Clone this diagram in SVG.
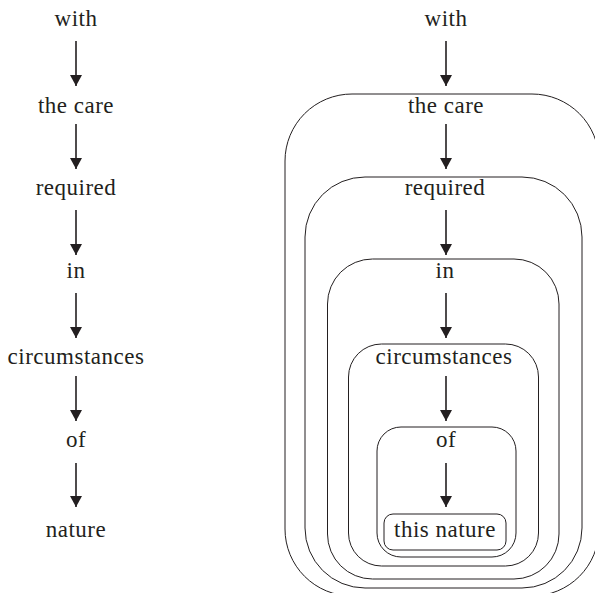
<svg xmlns="http://www.w3.org/2000/svg" width="595" height="593" viewBox="0 0 595 593">
<style>
text{font-family:"Liberation Serif","Times New Roman",serif;font-size:23px;fill:#231f20;text-anchor:middle;letter-spacing:0.5px}
.box{fill:none;stroke:#231f20;stroke-width:1}
.arr{stroke:#231f20;stroke-width:1.6;fill:none;marker-end:url(#ah)}
</style>
<defs>
<marker id="ah" markerUnits="userSpaceOnUse" markerWidth="11" markerHeight="12" viewBox="0 0 11 12" refX="11" refY="6" orient="auto">
<path d="M0,0 L11,6 L0,12 z" fill="#231f20"/>
</marker>
</defs>
<rect width="595" height="593" fill="#fff"/>
<g id="left-chain">
<g id="l-with"><text x="76" y="26">with</text></g>
<g id="l-thecare"><text x="76" y="113">the care</text></g>
<g id="l-required"><text x="76" y="195">required</text></g>
<g id="l-in"><text x="76" y="278">in</text></g>
<g id="l-circumstances"><text x="76" y="364">circumstances</text></g>
<g id="l-of"><text x="76" y="447">of</text></g>
<g id="l-nature"><text x="76" y="537">nature</text></g>
</g>
<g id="right-nest">
<g id="r-box1"><rect class="box" x="285" y="94" width="314" height="502" rx="67"/></g>
<g id="r-box2"><rect class="box" x="305" y="177" width="277" height="411" rx="60"/></g>
<g id="r-box3"><rect class="box" x="327.5" y="259" width="231.5" height="320" rx="45"/></g>
<g id="r-box4"><rect class="box" x="348.5" y="344" width="190" height="222" rx="33"/></g>
<g id="r-box5"><rect class="box" x="377" y="427" width="139" height="130" rx="24"/></g>
<g id="r-box6"><rect class="box" x="384" y="514" width="122" height="36" rx="9"/></g>
<g id="r-with"><text x="446" y="26">with</text></g>
<g id="r-thecare"><text x="446" y="113">the care</text></g>
<g id="r-required"><text x="445" y="195">required</text></g>
<g id="r-in"><text x="445" y="278">in</text></g>
<g id="r-circumstances"><text x="444" y="364">circumstances</text></g>
<g id="r-of"><text x="446" y="447">of</text></g>
<g id="r-thisnature"><text x="445" y="537">this nature</text></g>
</g>
<g id="connectors">
<line class="arr" x1="76" y1="41" x2="76" y2="86"/>
<line class="arr" x1="76" y1="124" x2="76" y2="169"/>
<line class="arr" x1="76" y1="210" x2="76" y2="255"/>
<line class="arr" x1="76" y1="293" x2="76" y2="338"/>
<line class="arr" x1="76" y1="376" x2="76" y2="421"/>
<line class="arr" x1="76" y1="463" x2="76" y2="507"/>
<line class="arr" x1="446" y1="41" x2="446" y2="86"/>
<line class="arr" x1="446" y1="124" x2="446" y2="169"/>
<line class="arr" x1="446" y1="210" x2="446" y2="255"/>
<line class="arr" x1="446" y1="293" x2="446" y2="338"/>
<line class="arr" x1="446" y1="376" x2="446" y2="421"/>
<line class="arr" x1="446" y1="463" x2="446" y2="507"/>
</g>
</svg>
